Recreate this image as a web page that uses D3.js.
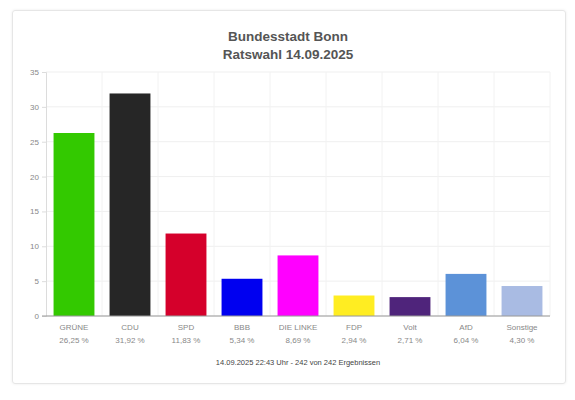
<!DOCTYPE html>
<html>
<head>
<meta charset="utf-8">
<script src="https://cdn.jsdelivr.net/npm/d3@7"></script>
<style>
  body { margin: 0; background: #fff; font-family: "Liberation Sans", Arial, sans-serif; }
  #card { position: absolute; left: 12px; top: 10px; width: 552px; height: 372px;
          border: 1px solid #e6e6e6; border-radius: 3px; box-shadow: 0 0 3px rgba(0,0,0,0.08); }
</style>
</head>
<body>
<div id="card"></div>
<div id="chart"></div>
<script>
const parties = ["GRÜNE", "CDU", "SPD", "BBB", "DIE LINKE", "FDP", "Volt", "AfD", "Sonstige"];
const shares = [26.25, 31.92, 11.83, 5.34, 8.69, 2.94, 2.71, 6.04, 4.30];
const colors = ["#33c900", "#262626", "#d5002b", "#0000f0", "#ff00ff", "#ffed22", "#4f247b", "#5c92d8", "#a9bbe3"];
const yTicks = [0, 5, 10, 15, 20, 25, 30, 35];

const width = 575, height = 400,
      margin = ({ top: 72, right: 25, bottom: 84, left: 46 });

let svg = d3.select("#chart")
    .append("svg")
    .attr("width", width)
    .attr("height", height)
    .style("position", "absolute")
    .style("left", 0).style("top", 0);

let x = d3.scaleBand()
    .domain(parties)
    .range([margin.left, width - margin.right])
    .paddingInner(0.27)
    .paddingOuter(0.135);

let y = d3.scaleLinear()
    .domain([0, 35])
    .range([height - margin.bottom, margin.top]);

// horizontal grid
svg.append("g")
    .selectAll("line")
    .data(yTicks)
    .join("line")
    .attr("x1", margin.left).attr("x2", width - margin.right)
    .attr("y1", d => y(d)).attr("y2", d => y(d))
    .attr("stroke", "#efefef");

// vertical grid between bands
let step = x.step();
svg.append("g")
    .selectAll("line")
    .data(parties)
    .join("line")
    .attr("x1", d => x(d) - step * x.paddingInner() / 2 + step)
    .attr("x2", d => x(d) - step * x.paddingInner() / 2 + step)
    .attr("y1", margin.top).attr("y2", y(0))
    .attr("stroke", "#f2f2f2");

// y axis
let yAxis = svg.append("g")
    .attr("transform", `translate(${margin.left},0)`)
    .call(d3.axisLeft(y).tickValues(yTicks).tickSize(4));
yAxis.select(".domain").attr("stroke", "#dcdcdc");
yAxis.selectAll(".tick line").attr("stroke", "#dcdcdc");
yAxis.selectAll("text").attr("fill", "#888").style("font-size", "8px")
    .style("font-family", "Liberation Sans, Arial, sans-serif");

// bars
svg.append("g")
    .selectAll("rect")
    .data(parties)
    .join("rect")
    .attr("x", d => x(d))
    .attr("width", x.bandwidth())
    .attr("y", (d, i) => y(shares[i]))
    .attr("height", (d, i) => y(0) - y(shares[i]))
    .attr("fill", (d, i) => colors[i]);

// x axis line
svg.append("line")
    .attr("x1", margin.left - 4).attr("x2", width - margin.right)
    .attr("y1", y(0)).attr("y2", y(0))
    .attr("stroke", "#999");

// category labels
let labels = svg.append("g")
    .selectAll("text")
    .data(parties)
    .join("text")
    .attr("x", d => x(d) + x.bandwidth() / 2)
    .attr("text-anchor", "middle")
    .attr("fill", "#888")
    .style("font-size", "8px");
labels.append("tspan").attr("x", d => x(d) + x.bandwidth() / 2).attr("y", y(0) + 14).text(d => d);
labels.append("tspan").attr("x", d => x(d) + x.bandwidth() / 2).attr("y", y(0) + 27)
    .text((d, i) => shares[i].toFixed(2).replace(".", ",") + " %");

// title
svg.append("text")
    .attr("x", 288).attr("y", 41)
    .attr("text-anchor", "middle")
    .attr("fill", "#555").style("font-size", "13.5px").style("font-weight", "bold")
    .text("Bundesstadt Bonn");
svg.append("text")
    .attr("x", 288).attr("y", 59)
    .attr("text-anchor", "middle")
    .attr("fill", "#555").style("font-size", "13.5px").style("font-weight", "bold")
    .text("Ratswahl 14.09.2025");

// footer
svg.append("text")
    .attr("x", 298).attr("y", 365)
    .attr("text-anchor", "middle")
    .attr("fill", "#444").style("font-size", "7.5px")
    .text("14.09.2025 22:43 Uhr - 242 von 242 Ergebnissen");
</script>
</body>
</html>
